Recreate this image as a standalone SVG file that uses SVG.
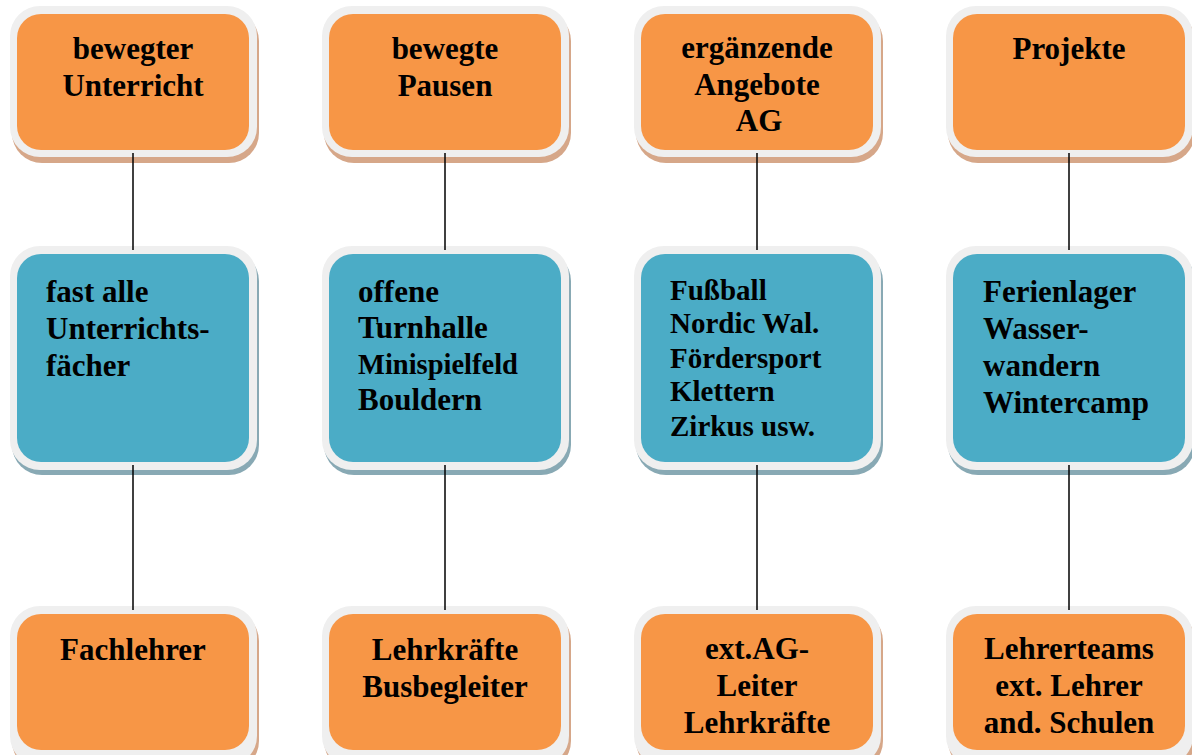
<svg xmlns="http://www.w3.org/2000/svg" width="1192" height="755" viewBox="0 0 1192 755">
<style>
.sh-o{fill:#D6A789}
.sh-b{fill:#88A9B4}
.rim{fill:#EFEFEF}
.or{fill:#F79646}
.bl{fill:#4BACC6}
text{font-family:"Liberation Serif","Times New Roman",serif;font-weight:bold;font-size:31px;fill:#000}
.c{text-anchor:middle}
.conn line{stroke:#000;stroke-width:1.5}
</style>
<rect width="1192" height="755" fill="#fff"/>
<g id="n-top-1">
<rect class="sh-o" x="12" y="11" width="247" height="152" rx="30"/>
<rect class="rim" x="10" y="6" width="247" height="151" rx="30"/>
<rect class="or" x="17" y="14" width="232" height="136" rx="24"/>
<text class="c" x="133" y="59">bewegter</text>
<text class="c" x="133" y="96">Unterricht</text>
</g>
<g id="n-top-2">
<rect class="sh-o" x="324" y="11" width="247" height="152" rx="30"/>
<rect class="rim" x="322" y="6" width="247" height="151" rx="30"/>
<rect class="or" x="329" y="14" width="232" height="136" rx="24"/>
<text class="c" x="445" y="59">bewegte</text>
<text class="c" x="445" y="96">Pausen</text>
</g>
<g id="n-top-3">
<rect class="sh-o" x="636" y="11" width="247" height="152" rx="30"/>
<rect class="rim" x="634" y="6" width="247" height="151" rx="30"/>
<rect class="or" x="641" y="14" width="232" height="136" rx="24"/>
<text class="c" x="757" y="58">ergänzende</text>
<text class="c" x="757" y="95">Angebote</text>
<text class="c" x="759" y="131">AG</text>
</g>
<g id="n-top-4">
<rect class="sh-o" x="948" y="11" width="247" height="152" rx="30"/>
<rect class="rim" x="946" y="6" width="247" height="151" rx="30"/>
<rect class="or" x="953" y="14" width="232" height="136" rx="24"/>
<text class="c" x="1069" y="59">Projekte</text>
</g>
<g id="n-mid-1">
<rect class="sh-b" x="12" y="251" width="247" height="224" rx="30"/>
<rect class="rim" x="10" y="246" width="247" height="224" rx="30"/>
<rect class="bl" x="17" y="254" width="232" height="208" rx="24"/>
<text x="46" y="302">fast alle</text>
<text x="46" y="339">Unterrichts-</text>
<text x="46" y="376">fächer</text>
</g>
<g id="n-mid-2">
<rect class="sh-b" x="324" y="251" width="247" height="224" rx="30"/>
<rect class="rim" x="322" y="246" width="247" height="224" rx="30"/>
<rect class="bl" x="329" y="254" width="232" height="208" rx="24"/>
<text x="358" y="302">offene</text>
<text x="358" y="338">Turnhalle</text>
<text x="358" y="374" style="font-size:28.5px">Minispielfeld</text>
<text x="358" y="410">Bouldern</text>
</g>
<g id="n-mid-3">
<rect class="sh-b" x="636" y="251" width="247" height="224" rx="30"/>
<rect class="rim" x="634" y="246" width="247" height="224" rx="30"/>
<rect class="bl" x="641" y="254" width="232" height="208" rx="24"/>
<g style="font-size:29px">
<text x="670" y="300" style="font-size:29px">Fußball</text>
<text x="670" y="333" style="font-size:29px">Nordic Wal.</text>
<text x="670" y="368" style="font-size:29px">Fördersport</text>
<text x="670" y="401" style="font-size:29px">Klettern</text>
<text x="670" y="436" style="font-size:29px">Zirkus usw.</text>
</g>
</g>
<g id="n-mid-4">
<rect class="sh-b" x="948" y="251" width="247" height="224" rx="30"/>
<rect class="rim" x="946" y="246" width="247" height="224" rx="30"/>
<rect class="bl" x="953" y="254" width="232" height="208" rx="24"/>
<text x="983" y="302">Ferienlager</text>
<text x="983" y="339">Wasser-</text>
<text x="983" y="376">wandern</text>
<text x="983" y="413">Wintercamp</text>
</g>
<g id="n-bot-1">
<rect class="sh-o" x="12" y="611" width="247" height="160" rx="30"/>
<rect class="rim" x="10" y="606" width="247" height="160" rx="30"/>
<rect class="or" x="17" y="614" width="232" height="136" rx="24"/>
<text class="c" x="133" y="660">Fachlehrer</text>
</g>
<g id="n-bot-2">
<rect class="sh-o" x="324" y="611" width="247" height="160" rx="30"/>
<rect class="rim" x="322" y="606" width="247" height="160" rx="30"/>
<rect class="or" x="329" y="614" width="232" height="136" rx="24"/>
<text class="c" x="445" y="660">Lehrkräfte</text>
<text class="c" x="445" y="697">Busbegleiter</text>
</g>
<g id="n-bot-3">
<rect class="sh-o" x="636" y="611" width="247" height="160" rx="30"/>
<rect class="rim" x="634" y="606" width="247" height="160" rx="30"/>
<rect class="or" x="641" y="614" width="232" height="136" rx="24"/>
<text class="c" x="757" y="659">ext.AG-</text>
<text class="c" x="757" y="696">Leiter</text>
<text class="c" x="757" y="733">Lehrkräfte</text>
</g>
<g id="n-bot-4">
<rect class="sh-o" x="948" y="611" width="247" height="160" rx="30"/>
<rect class="rim" x="946" y="606" width="247" height="160" rx="30"/>
<rect class="or" x="953" y="614" width="232" height="136" rx="24"/>
<text class="c" x="1069" y="659">Lehrerteams</text>
<text class="c" x="1069" y="696">ext. Lehrer</text>
<text class="c" x="1069" y="733">and. Schulen</text>
</g>
<g id="connectors" class="conn">
<line x1="133" y1="153" x2="133" y2="250"/>
<line x1="445" y1="153" x2="445" y2="250"/>
<line x1="757" y1="153" x2="757" y2="250"/>
<line x1="1069" y1="153" x2="1069" y2="250"/>
<line x1="133" y1="465" x2="133" y2="610"/>
<line x1="445" y1="465" x2="445" y2="610"/>
<line x1="757" y1="465" x2="757" y2="610"/>
<line x1="1069" y1="465" x2="1069" y2="610"/>
</g>
</svg>
